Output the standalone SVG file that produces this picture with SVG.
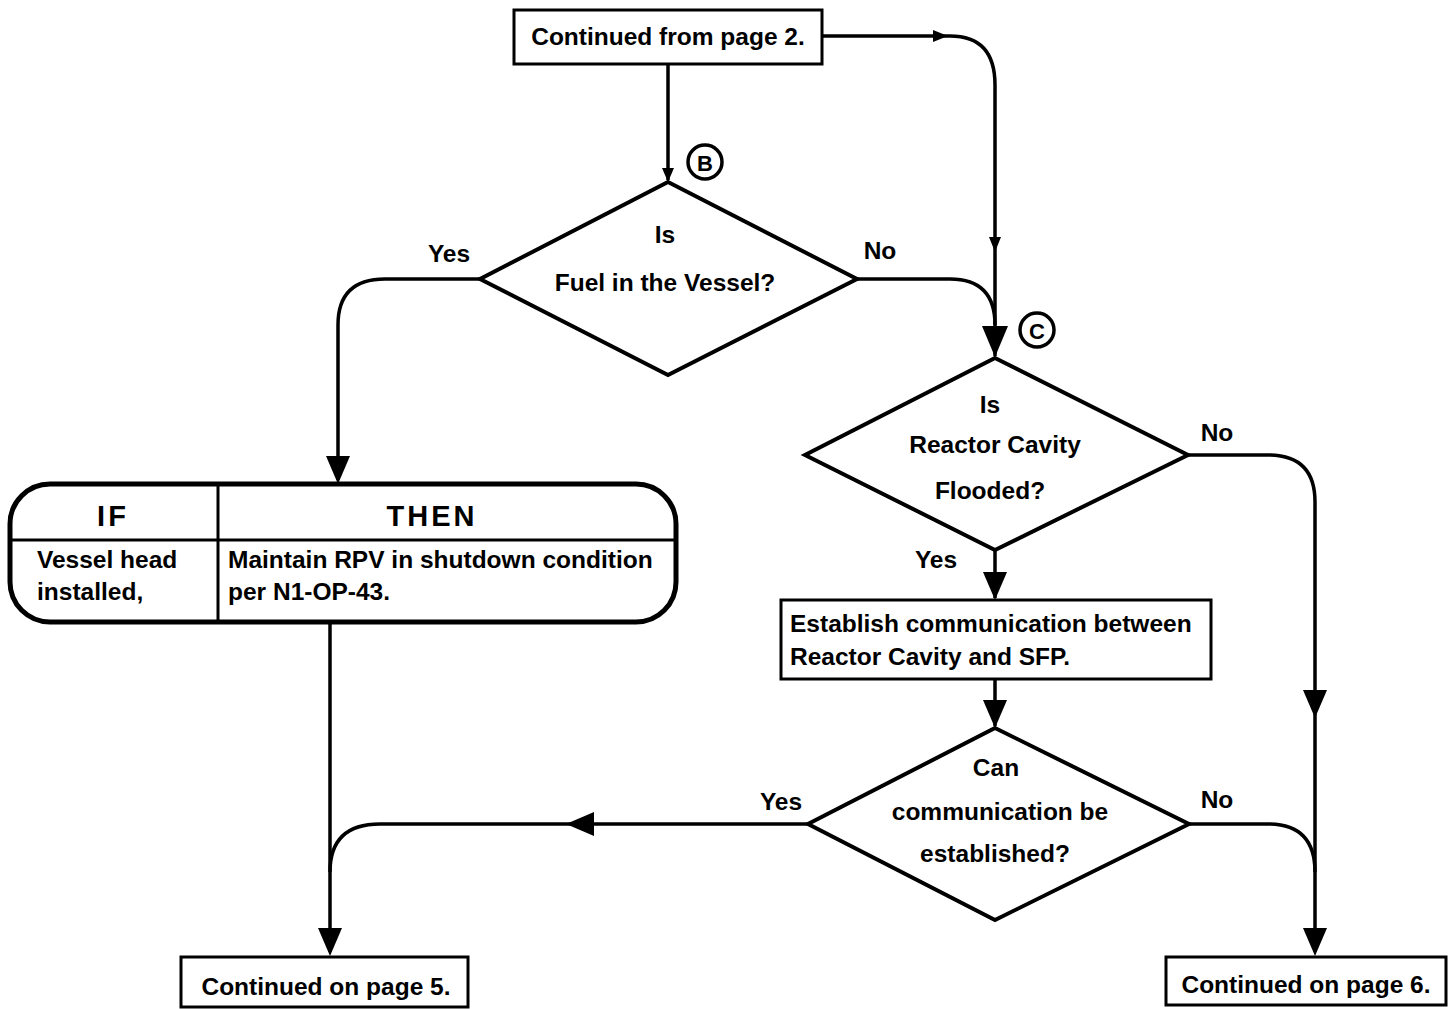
<svg xmlns="http://www.w3.org/2000/svg" width="1456" height="1009" viewBox="0 0 1456 1009">
<style>
.box{fill:#fff;stroke:#000;stroke-width:3}
.dia{fill:#fff;stroke:#000;stroke-width:4;stroke-linejoin:miter}
.ln{fill:none;stroke:#000;stroke-width:3.5}
.t{font-family:"Liberation Sans",Arial,sans-serif;font-size:24.5px;font-weight:bold;fill:#000}
.c{text-anchor:middle}
.hd{font-family:"Liberation Sans",Arial,sans-serif;font-size:29px;font-weight:bold;letter-spacing:3px;text-anchor:middle}
.ah{fill:#000}
.cir{fill:#fff;stroke:#000;stroke-width:3.5}
</style>
<rect width="1456" height="1009" fill="#fff"/>
<g id="connectors">
<path class="ln" d="M668,64 V180"/>
<path class="ah" d="M662,168 L674,168 L668,182 Z"/>
<path class="ln" d="M822,36 H950 Q995,36 995,85 V356"/>
<path class="ah" d="M933,30 L948,36 L933,42 Z"/>
<path class="ah" d="M989,237 L1001,237 L995,252 Z"/>
<path class="ln" d="M857,279 H950 Q995,279 995,325"/>
<path class="ah" d="M982,326 L1008,326 L995,357 Z"/>
<path class="ln" d="M480,279 H385 Q338,279 338,325 V480"/>
<path class="ah" d="M326,456 L350,456 L338,484 Z"/>
<path class="ln" d="M330,622 V952"/>
<path class="ah" d="M318,928 L342,928 L330,956 Z"/>
<path class="ln" d="M1188,455 H1268 Q1315,455 1315,502 V952"/>
<path class="ah" d="M1303,690 L1327,690 L1315,718 Z"/>
<path class="ah" d="M1303,928 L1327,928 L1315,956 Z"/>
<path class="ln" d="M995,550 V598"/>
<path class="ah" d="M983,572 L1007,572 L995,600 Z"/>
<path class="ln" d="M995,679 V726"/>
<path class="ah" d="M983,700 L1007,700 L995,728 Z"/>
<path class="ln" d="M808,824 H380 Q330,824 330,872"/>
<path class="ah" d="M594,812 L594,836 L566,824 Z"/>
<path class="ln" d="M1189,824 H1268 Q1315,824 1315,872"/>
</g>
<g id="n-from2">
<rect class="box" x="514" y="10" width="308" height="54"/>
<text class="t c" x="668" y="45">Continued from page 2.</text>
</g>
<g id="n-B">
<circle class="cir" cx="705" cy="162" r="17"/>
<text class="t c" x="705" y="171" style="font-size:22px">B</text>
</g>
<g id="n-fuel">
<path class="dia" d="M668,182 L857,279 L668,375 L480,279 Z"/>
<text class="t c" x="665" y="243">Is</text>
<text class="t c" x="665" y="291">Fuel in the Vessel?</text>
<text class="t c" x="449" y="262">Yes</text>
<text class="t c" x="880" y="259">No</text>
</g>
<g id="n-ifthen">
<rect x="10" y="484" width="666" height="138" rx="40" ry="40" fill="#fff" stroke="#000" stroke-width="5"/>
<line x1="218" y1="486" x2="218" y2="620" stroke="#000" stroke-width="3"/>
<line x1="12" y1="540" x2="674" y2="540" stroke="#000" stroke-width="3"/>
<text class="hd" x="113" y="526">IF</text>
<text class="hd" x="432" y="526">THEN</text>
<text class="t" x="37" y="568">Vessel head</text>
<text class="t" x="37" y="600">installed,</text>
<text class="t" x="228" y="568">Maintain RPV in shutdown condition</text>
<text class="t" x="228" y="600">per N1-OP-43.</text>
</g>
<g id="n-C">
<circle class="cir" cx="1037" cy="330" r="17"/>
<text class="t c" x="1037" y="339" style="font-size:22px">C</text>
</g>
<g id="n-flooded">
<path class="dia" d="M995,358 L1188,455 L995,550 L805,455 Z"/>
<text class="t c" x="990" y="413">Is</text>
<text class="t c" x="995" y="453">Reactor Cavity</text>
<text class="t c" x="990" y="499">Flooded?</text>
<text class="t c" x="1217" y="441">No</text>
<text class="t c" x="936" y="568">Yes</text>
</g>
<g id="n-establish">
<rect class="box" x="781" y="600" width="430" height="79"/>
<text class="t" x="790" y="632">Establish communication between</text>
<text class="t" x="790" y="665">Reactor Cavity and SFP.</text>
</g>
<g id="n-can">
<path class="dia" d="M995,728 L1189,824 L995,920 L808,824 Z"/>
<text class="t c" x="996" y="776">Can</text>
<text class="t c" x="1000" y="820">communication be</text>
<text class="t c" x="995" y="862">established?</text>
<text class="t c" x="781" y="810">Yes</text>
<text class="t c" x="1217" y="808">No</text>
</g>
<g id="n-page5">
<rect class="box" x="181" y="957" width="287" height="50"/>
<text class="t c" x="326" y="995">Continued on page 5.</text>
</g>
<g id="n-page6">
<rect class="box" x="1166" y="957" width="280" height="48"/>
<text class="t c" x="1306" y="993">Continued on page 6.</text>
</g>
</svg>
